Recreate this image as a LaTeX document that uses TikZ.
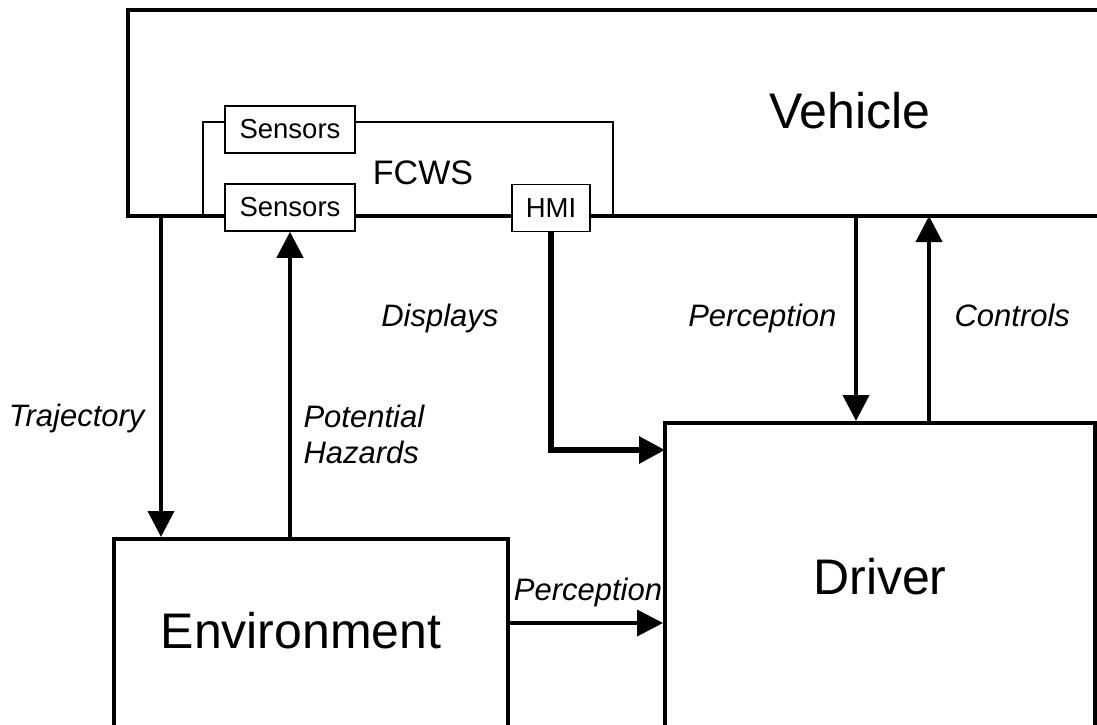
\documentclass[tikz,border=0pt]{standalone}
\usepackage{fontspec}
\setmainfont{Liberation Sans}
\usetikzlibrary{arrows.meta}

\begin{document}
\begin{tikzpicture}[x=1pt,y=-1pt,
  box/.style={draw,line width=4pt,inner sep=0pt},
  subbox/.style={draw,fill=white,line width=1.5pt,inner sep=0pt,minimum width=130pt,minimum height=47pt,font=\fontsize{27.5}{33}\selectfont},
  big/.style={font=\fontsize{50}{60}\selectfont},
  lbl/.style={font=\fontsize{31}{36}\selectfont\itshape},
  arr/.style={-{Triangle[length=26pt,width=26pt]},line width=4pt}]
  \useasboundingbox (0,0) rectangle (1097,725);
  % vehicle with the FCWS inside
  \node[box,minimum width=992pt,minimum height=206pt] (vehicle) at (624,113) {};
  \node[big,anchor=base] (vehtxt) at (850,128) {Vehicle};
  \node[draw,line width=1.5pt,inner sep=0pt,minimum width=410pt,minimum height=94pt] (fcws) at (408,169) {};
  \node[font=\fontsize{34}{40}\selectfont,anchor=base] (fcwstxt) at (423,184) {FCWS};
  \node[subbox] (sensA) at (290,129.5) {Sensors};
  \node[subbox] (sensB) at (290,207.5) {Sensors};
  \node[subbox,minimum width=78pt] (hmi) at (551,208) {HMI};
  % environment and driver
  \node[box,minimum width=394pt,minimum height=260pt] (env) at (311,669) {};
  \node[big,anchor=base] (envtxt) at (301,648) {Environment};
  \node[box,big,minimum width=430pt,minimum height=308pt] (drv) at (880,577) {Driver};
  % connectors
  \coordinate (trajtop) at (161,216);
  \coordinate (dispin) at (665,450);
  \coordinate (percdown) at (856,216);
  \coordinate (ctrlup) at (929,216);
  \coordinate (envout) at (508,623);
  \draw[arr] (trajtop) -- (trajtop |- env.north); %Trajectory
  \draw[arr] (sensB.south |- env.north) -- (sensB.south); %Hazards
  \draw[arr,line width=6pt] (hmi.south) |- (dispin); %Displays
  \draw[arr] (percdown) -- (percdown |- drv.north);
  \draw[arr] (ctrlup |- drv.north) -- (ctrlup);
  \draw[arr] (envout) -- (envout -| drv.west);
  % labels
  \node[lbl,anchor=base east] (trajlbl) at (148,426) {Trajectory};
  \node[lbl,anchor=west,align=left] (hazlbl) at (300,434) {Potential\\Hazards};
  \node[lbl,anchor=base east] (displbl) at (502,326) {Displays};
  \node[lbl,anchor=base east] (perclbl) at (840,326) {Perception};
  \node[lbl,anchor=base west] (ctrllbl) at (951,326) {Controls};
  \node[lbl,anchor=base] (envperclbl) at (588,600) {Perception};
\end{tikzpicture}
\end{document}
